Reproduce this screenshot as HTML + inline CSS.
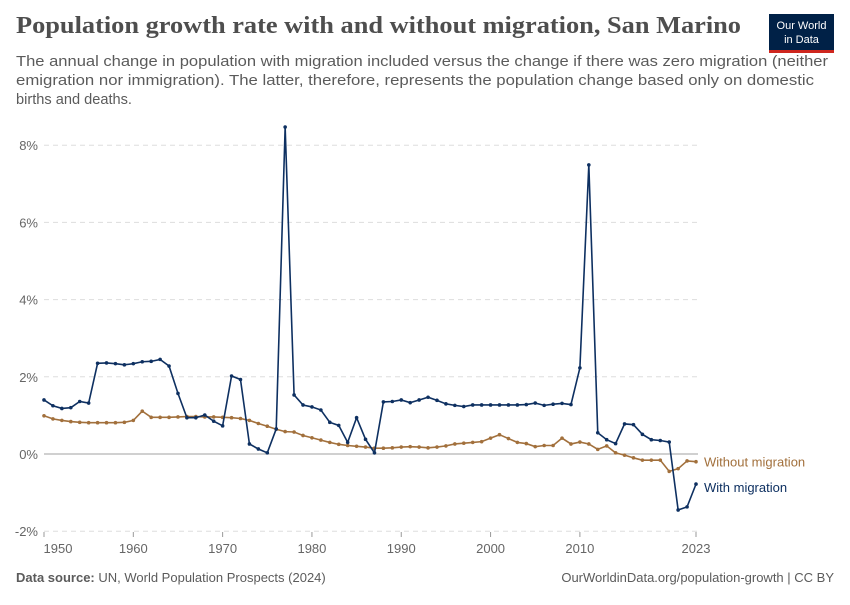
<!DOCTYPE html>
<html><head><meta charset="utf-8"><style>
body{margin:0;width:850px;height:600px;background:#fff;font-family:"Liberation Sans",sans-serif;overflow:hidden}
svg text{font-family:"Liberation Sans",sans-serif}
</style></head><body>
<svg width="850" height="600">
<text x="16" y="33" font-size="24" font-weight="bold" fill="#4e4e4e" textLength="725" lengthAdjust="spacingAndGlyphs" style="font-family:'Liberation Serif',serif">Population growth rate with and without migration, San Marino</text>
<g font-size="14.5" fill="#5b5b5b">
<text x="16" y="66" textLength="812" lengthAdjust="spacingAndGlyphs">The annual change in population with migration included versus the change if there was zero migration (neither</text>
<text x="16" y="85" textLength="798" lengthAdjust="spacingAndGlyphs">emigration nor immigration). The latter, therefore, represents the population change based only on domestic</text>
<text x="16" y="104" textLength="116" lengthAdjust="spacingAndGlyphs">births and deaths.</text></g>
<g><rect x="769" y="14" width="65" height="36" fill="#002147"/><rect x="769" y="50" width="65" height="3" fill="#ce261e"/>
<text x="801.5" y="29" font-size="11" fill="#fff" text-anchor="middle">Our World</text><text x="801.5" y="43" font-size="11" fill="#fff" text-anchor="middle">in Data</text></g>
<g id="axes"></g><g id="plot"></g>
<text x="16" y="582" font-size="13" fill="#5b5b5b"><tspan font-weight="bold">Data source:</tspan> UN, World Population Prospects (2024)</text>
<text x="834" y="582" font-size="13" fill="#5b5b5b" text-anchor="end">OurWorldinData.org/population-growth | CC BY</text>
</svg>
<script>
const years=[];for(let y=1950;y<=2023;y++)years.push(y);
const withMig=[1.40,1.25,1.18,1.20,1.36,1.32,2.35,2.36,2.34,2.31,2.34,2.39,2.40,2.45,2.28,1.57,0.94,0.94,1.01,0.85,0.73,2.02,1.93,0.26,0.13,0.03,0.65,8.47,1.53,1.27,1.22,1.14,0.82,0.74,0.30,0.94,0.38,0.03,1.35,1.36,1.40,1.33,1.40,1.47,1.39,1.30,1.26,1.23,1.27,1.27,1.27,1.27,1.27,1.27,1.28,1.32,1.26,1.29,1.31,1.28,2.23,7.49,0.55,0.37,0.27,0.78,0.76,0.51,0.37,0.35,0.31,-1.45,-1.37,-0.78];
const withoutMig=[0.99,0.91,0.87,0.84,0.82,0.81,0.81,0.81,0.81,0.82,0.87,1.11,0.95,0.95,0.95,0.96,0.97,0.97,0.96,0.96,0.95,0.94,0.92,0.87,0.79,0.72,0.64,0.58,0.57,0.48,0.42,0.36,0.30,0.25,0.22,0.20,0.18,0.15,0.15,0.16,0.18,0.19,0.18,0.16,0.18,0.21,0.26,0.28,0.30,0.32,0.41,0.50,0.40,0.30,0.27,0.19,0.22,0.22,0.41,0.26,0.31,0.26,0.12,0.21,0.03,-0.03,-0.10,-0.16,-0.16,-0.16,-0.45,-0.38,-0.18,-0.20];
const yTicks=[-2,0,2,4,6,8];
const xTicks=[1950,1960,1970,1980,1990,2000,2010,2023];
const NS='http://www.w3.org/2000/svg';
const X=y=>44+(y-1950)*(696-44)/73;
const Y=v=>454-v*38.6;
function mk(t,a,p){const e=document.createElementNS(NS,t);for(const k in a)e.setAttribute(k,a[k]);p.appendChild(e);return e;}
const ax=document.getElementById('axes'),pl=document.getElementById('plot');
yTicks.forEach(v=>{
 const l=mk('line',{x1:44,x2:698,y1:Y(v),y2:Y(v),stroke:v===0?'#a0a0a0':'#dddddd','stroke-dasharray':v===0?'':'5,4'},ax);
 
 const t=mk('text',{x:38,y:Y(v)+5,'font-size':13,fill:'#666','text-anchor':'end'},ax);t.textContent=v+'%';
 
});
xTicks.forEach((yr,i)=>{
 const t=mk('text',{x:i===0?X(yr)+14:X(yr),y:553,'font-size':13,fill:'#666','text-anchor':'middle'},ax);
 t.textContent=yr;
 const k=mk('line',{x1:X(yr),x2:X(yr),y1:532,y2:537,stroke:'#999'},ax);
 
});
function series(vals,color,name,label,ly){
 const g=mk('g',{},pl);
 mk('polyline',{points:vals.map((v,i)=>X(years[i])+','+Y(v)).join(' '),fill:'none',stroke:color,'stroke-width':1.6},g);
 vals.forEach((v,i)=>{const c=mk('circle',{cx:X(years[i]),cy:Y(v),r:1.8,fill:color},g);
  });
 const t=mk('text',{x:704,y:ly,'font-size':13,fill:color},pl);t.textContent=label;
 
}
series(withoutMig,'#a2703c','without-migration-line','Without migration',Y(withoutMig[73])+5);
series(withMig,'#0e3061','with-migration-line','With migration',Y(withMig[73])+5+3);
</script>
</body></html>
